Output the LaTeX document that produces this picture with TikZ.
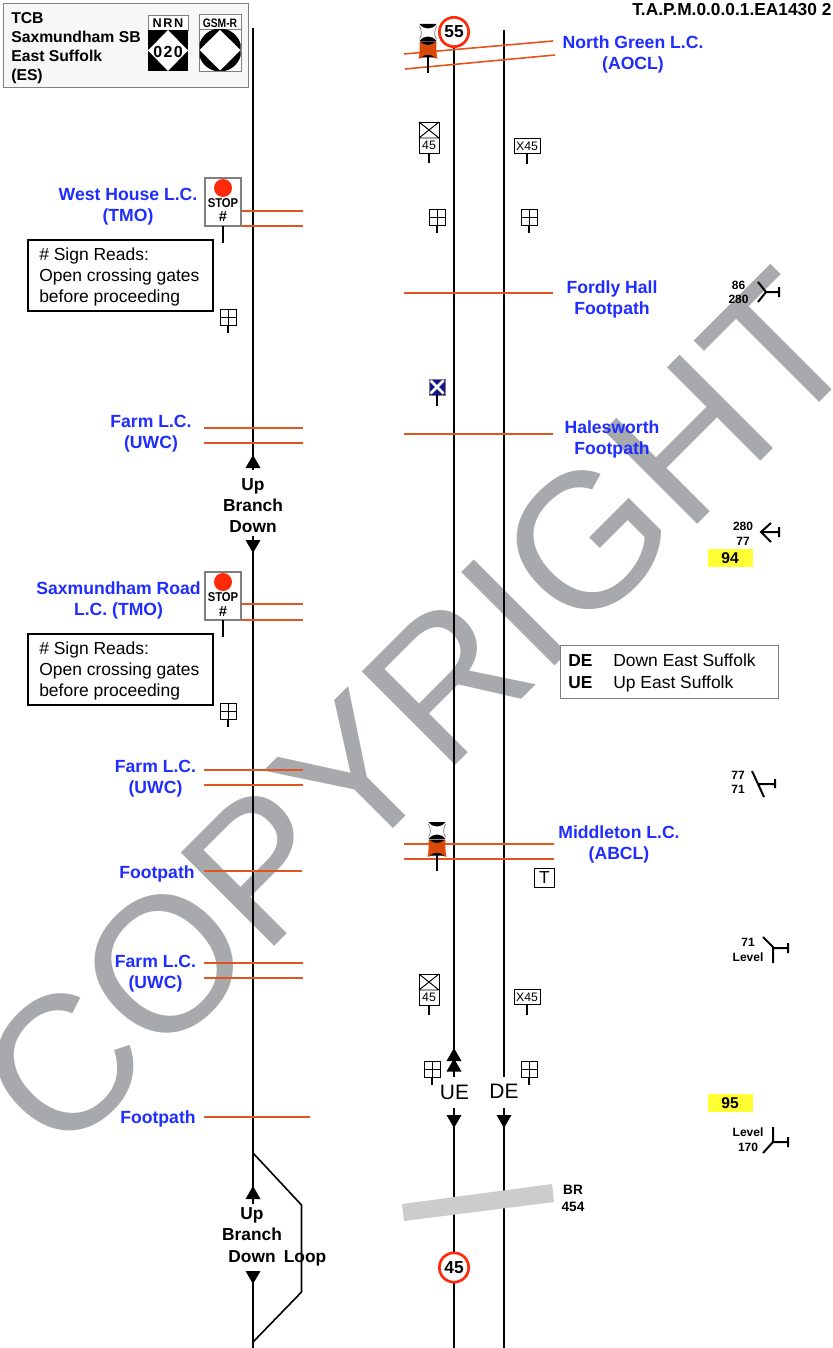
\documentclass[tikz,border=0pt]{standalone}
\usepackage{fontspec}
\setmainfont{Liberation Sans}
\definecolor{wm}{HTML}{A7A9AC}
\definecolor{lcblue}{HTML}{1F2DFF}
\definecolor{lcline}{HTML}{E2561E}
\definecolor{sigred}{HTML}{FF2A0A}
\definecolor{signorange}{HTML}{D94A08}
\definecolor{hl}{HTML}{FFFF33}
\definecolor{boxgray}{HTML}{808080}
\definecolor{navy}{HTML}{14148C}
\tikzset{
  track/.style={line width=1.5pt,black},
  crossline/.style={line width=1.2pt,lcline},
  post/.style={line width=1.7pt,black},
  lc/.style={font=\fontsize{13.2pt}{15.75pt}\bfseries\selectfont,text=lcblue,align=center,inner sep=0pt},
  bold/.style={font=\fontsize{13pt}{15.75pt}\bfseries\selectfont,align=center,inner sep=0pt},
  small/.style={font=\fontsize{9pt}{11pt}\bfseries\selectfont,align=center,inner sep=0pt},
  note/.style={font=\fontsize{13.1pt}{15.75pt}\selectfont,align=left,inner sep=0pt,anchor=west},
  limit/.style={circle,draw=sigred,fill=white,line width=2pt,minimum size=22pt,inner sep=0pt,font=\fontsize{13pt}{14pt}\bfseries\selectfont},
  grad/.style={line width=1.5pt,black},
  gridsign/.pic={
    \draw[line width=.7pt,black,fill=white] (-8,-24) rectangle (8,-8);
    \draw[line width=.7pt,black] (-8,-16) -- (8,-16) (0,-24) -- (0,-8);
    \draw[post] (0,-8) -- (0,0);
  },
  speedx/.pic={
    \draw[line width=.7pt,black,fill=white] (-10,-41) rectangle (10,-10);
    \draw[line width=.7pt,black] (-10,-41) -- (10,-25) (10,-41) -- (-10,-25) (-10,-25) -- (10,-25);
    \node[inner sep=0pt,font=\fontsize{9.2pt}{11pt}\selectfont] at (0,-17.5) {45};
    \draw[post] (0,-10) -- (0,0);
  },
  xbox/.pic={
    \node[draw=black,line width=.7pt,fill=white,minimum width=19.5pt,minimum height=11.5pt,inner sep=0pt,font=\fontsize{9.2pt}{11pt}\selectfont] at (0,-18) {X45};
    \draw[post] (0,-10) -- (0,0);
  },
  crossing/.pic={
    \fill[white] (-8.5,-49) rectangle (8.5,-32);
    \fill[black] (-8.5,-49) .. controls (-4,-43) and (4,-43) .. (8.5,-49) -- cycle;
    \fill[black] (-8.5,-32) .. controls (-4,-38) and (4,-38) .. (8.5,-32) -- cycle;
    \draw[black!55,line width=.5pt] (-8.5,-47) .. controls (-6,-41) and (-6,-38) .. (-8.5,-34);
    \draw[black!55,line width=.5pt] (8.5,-47) .. controls (6,-41) and (6,-38) .. (8.5,-34);
    \fill[signorange] (-9.5,-14) .. controls (-8,-20) and (-8.5,-26) .. (-8.5,-31) -- (8.5,-31) .. controls (8.5,-26) and (8,-20) .. (9.5,-14) .. controls (4,-17) and (-4,-17) .. (-9.5,-14) -- cycle;
    \fill[black] (-8,-31.5) .. controls (-3,-27) and (3,-27) .. (8,-31.5) -- cycle;
    \fill[black] (-7,-15.5) .. controls (-3,-19) and (3,-19) .. (7,-15.5) -- cycle;
    \draw[post] (0,-16) -- (0,0);
  },
  stopboard/.pic={
    \draw[line width=.8pt,boxgray,fill=white] (-18,-65) rectangle (18,-17);
    \fill[sigred] (0,-55) circle (9);
    \node[inner sep=0pt,font=\fontsize{9.6pt}{10pt}\bfseries\selectfont] at (0,-39.5) {\scalebox{.88}[1]{STOP}};
    \node[inner sep=0pt,font=\fontsize{11pt}{11pt}\bfseries\selectfont] at (0,-26) {\#};
    \draw[post] (0,-17) -- (0,0);
  },
  uptri/.pic={\fill[black] (-7.5,0) -- (0,-13) -- (7.5,0) -- cycle;},
  downtri/.pic={\fill[black] (-7.5,0) -- (0,13) -- (7.5,0) -- cycle;},
}
\begin{document}
\begin{tikzpicture}[x=0.75pt,y=-0.75pt]
\useasboundingbox (0,0) rectangle (832,1348);
\clip (0,0) rectangle (832,1348);
\fill[white] (0,0) rectangle (832,1348);

% watermark
\node[rotate=45,text=wm,inner sep=0pt,font=\fontsize{144pt}{144pt}\selectfont] (watermark) at (417,711) {COPYRIGHT};

% header
\draw[line width=.6pt,boxgray,fill=black!3] (3,3) rectangle (248,87);
\node[font=\fontsize{11.8pt}{14.25pt}\bfseries\selectfont,align=left,inner sep=0pt,anchor=west] (header) at (11,48.5) {TCB\\Saxmundham SB\\East Suffolk\\(ES)};
\draw[line width=.6pt,boxgray,fill=white] (148,15) rectangle (188,30);
\node[inner sep=0pt,font=\fontsize{9.5pt}{10pt}\bfseries\selectfont] (nrn) at (168,23.5) {N\kern1.2pt R\kern1.2pt N};
\fill[black] (148,30) rectangle (188,71);
\fill[white] (168,30) -- (188,50.5) -- (168,71) -- (148,50.5) -- cycle;
\node[inner sep=0pt,font=\fontsize{12pt}{12pt}\bfseries\selectfont] (num) at (168,52) {0\kern1pt2\kern1pt0};
\draw[line width=.7pt,boxgray,fill=white] (199,14) rectangle (241,71);
\draw[line width=.7pt,boxgray] (199,29) -- (241,29);
\node[inner sep=0pt,font=\fontsize{9.2pt}{10pt}\bfseries\selectfont] (gsm) at (220,23) {\scalebox{.84}[1]{GSM-R}};
\begin{scope}
\clip (199.5,29.5) rectangle (240.5,70.5);
\fill[black] (220,50) circle (21.5);
\fill[white] (220,30) -- (240.5,50) -- (220,70.5) -- (199.5,50) -- cycle;
\end{scope}
\node[inner sep=0pt,anchor=west,font=\fontsize{13pt}{14pt}\bfseries\selectfont] (tapm) at (632,10) {T.A.P.M.0.0.0.1.EA1430 2};

% left branch
\coordinate (la) at (253,28); \coordinate (lb) at (253,470);
\coordinate (lc1) at (253,536); \coordinate (ld) at (253,1204);
\coordinate (le) at (253,1271); \coordinate (lf) at (253,1348);
\draw[track] (la) -- (lb) (lc1) -- (ld) (le) -- (lf);
\coordinate (loopa) at (253,1153); \coordinate (loopb) at (301.5,1205);
\coordinate (loopc) at (301.5,1292); \coordinate (loopd) at (253,1342);
\draw[line width=1.2pt] (loopa) -- (loopb) -- (loopc) -- (loopd);
\pic at (253,468) {uptri};
\pic at (253,540) {downtri};
\pic at (253,1199) {uptri};
\pic at (253,1271) {downtri};
\node[bold] (ubd1) at (253,506) {Up\\Branch\\Down};
\node[bold] (ub2) at (252,1224.5) {Up\\Branch};
\node[bold] (dn2) at (252,1256.5) {Down};
\node[bold,fill=none] (loop) at (305,1258.5) {Loop};

% main tracks
\coordinate (ue1) at (454,40); \coordinate (ue2) at (454,1077);
\coordinate (ue3) at (454,1108); \coordinate (ue4) at (454,1348);
\coordinate (de1) at (504,30); \coordinate (de2) at (504,1077);
\coordinate (de3) at (504,1108); \coordinate (de4) at (504,1348);
\draw[track] (ue1) -- (ue2) (ue3) -- (ue4) (de1) -- (de2) (de3) -- (de4);
\pic at (454,1061) {uptri};
\pic at (454,1071.5) {uptri};
\pic at (454,1115) {downtri};
\pic at (504,1115) {downtri};
\node[inner sep=0pt,font=\fontsize{15.7pt}{18pt}\selectfont] (uelab) at (454.5,1092.5) {UE};
\node[inner sep=0pt,font=\fontsize{15.7pt}{18pt}\selectfont] (delab) at (504,1091) {DE};

% crossings
\foreach \ya in {211,226,428,443,604,620,770,785,963,978}{\draw[crossline] (204,\ya) -- (303,\ya);}
\draw[crossline] (204,871) -- (302,871);
\draw[crossline] (204,1117) -- (310,1117);
\draw[crossline] (404,293) -- (553,293);
\draw[crossline] (404,434) -- (553,434);
\draw[crossline] (404,844) -- (554,844);
\draw[crossline] (404,859) -- (554,859);
\draw[crossline] (404,54) -- (553,41);
\draw[crossline] (405,69) -- (555,55);

% signs
\node[limit] (s55) at (454,32) {55};
\node[limit] (s45) at (454,1267.5) {45};
\pic at (428,73) {crossing};
\pic at (437,871) {crossing};
\pic at (223,243) {stopboard};
\pic at (223,637) {stopboard};
\pic at (228,333) {gridsign};
\pic at (228,727) {gridsign};
\pic at (437,233) {gridsign};
\pic at (529,233) {gridsign};
\pic at (432,1085) {gridsign};
\pic at (529,1085) {gridsign};
\pic at (429,163) {speedx};
\pic at (429,1015) {speedx};
\pic at (527,164) {xbox};
\pic at (527,1015) {xbox};
\fill[navy] (429,379) rectangle (445,395);
\draw[white,line width=2pt] (430.5,380.5) -- (443.5,393.5) (443.5,380.5) -- (430.5,393.5);
\draw[boxgray,line width=.5pt] (429,379) rectangle (445,395);
\draw[post] (437,395) -- (437,406);
\node[draw=black,line width=.7pt,fill=white,minimum width=15.5pt,minimum height=14.5pt,inner sep=0pt,font=\fontsize{13pt}{14pt}\selectfont] (tbox) at (544.5,878) {T};

% note boxes
\draw[line width=.9pt,black,fill=white] (28,240) rectangle (213,311);
\node[note] (note1) at (39,276.5) {\#\ Sign Reads:\\Open crossing gates\\before proceeding};
\draw[line width=.9pt,black,fill=white] (28,634) rectangle (213,705);
\node[note] (note2) at (39,670.5) {\#\ Sign Reads:\\Open crossing gates\\before proceeding};

% blue labels
\node[lc] (westhouse) at (128,207) {West House L.C.\\(TMO)};
\node[lc] (farm1) at (151,434) {Farm L.C.\\(UWC)};
\node[lc] (saxrd) at (118.5,600) {Saxmundham Road\\L.C. (TMO)};
\node[lc] (farm2) at (155.5,779) {Farm L.C.\\(UWC)};
\node[lc] (fp1) at (157,873.5) {Footpath};
\node[lc] (farm3) at (155.5,974) {Farm L.C.\\(UWC)};
\node[lc] (fp2) at (158,1118.5) {Footpath};
\node[lc] (northgreen) at (633,54) {North Green L.C.\\(AOCL)};
\node[lc] (fordly) at (612,299) {Fordly Hall\\Footpath};
\node[lc] (hales) at (612,439) {Halesworth\\Footpath};
\node[lc] (middleton) at (619,844) {Middleton L.C.\\(ABCL)};

% bridge
\fill[black!20] (402,1204) -- (552,1184) -- (554,1202) -- (404,1221) -- cycle;
\node[font=\fontsize{10.2pt}{12.75pt}\bfseries\selectfont,align=center,inner sep=0pt] (br) at (573,1198) {BR\\454};

% legend
\draw[line width=.7pt,boxgray,fill=white] (560,645) rectangle (778,698);
\node[bold,anchor=west] (leg1) at (568,661) {DE};
\node[bold,anchor=west] (leg2) at (568,682.5) {UE};
\node[note] (leg3) at (613,660.5) {Down East Suffolk};
\node[note] (leg4) at (613,683.5) {Up East Suffolk};

% gradients
\node[small] (g1) at (738.5,292.5) {86\\280};
\draw[grad] (758,282) -- (766,292) -- (758,302) (766,292) -- (779,292) (779,287) -- (779,297);
\node[small] (g2) at (743,533.5) {280\\77};
\draw[grad] (771,523) -- (761,532) -- (771,542) (761,532) -- (779,532) (779,527) -- (779,537);
\node[small] (g3) at (738,782.5) {77\\71};
\draw[grad] (752,771) -- (764,797) (758,784) -- (775,784) (775,779) -- (775,788);
\node[small] (g4) at (748,950) {71\\Level};
\draw[grad] (763,937) -- (773,947) -- (773,963) (773,948) -- (788,948) (788,943) -- (788,953);
\node[small] (g5) at (748,1140) {Level\\170};
\draw[grad] (773,1127) -- (773,1142) -- (763,1153) (773,1142) -- (788,1142) (788,1137) -- (788,1147);

% mileposts
\fill[hl] (708,549) rectangle (753,567);
\node[inner sep=0pt,font=\fontsize{11.7pt}{13pt}\bfseries\selectfont] (m94) at (730,558) {94};
\fill[hl] (708,1094) rectangle (753,1112);
\node[inner sep=0pt,font=\fontsize{11.7pt}{13pt}\bfseries\selectfont] (m95) at (730,1103) {95};
\end{tikzpicture}
\end{document}
